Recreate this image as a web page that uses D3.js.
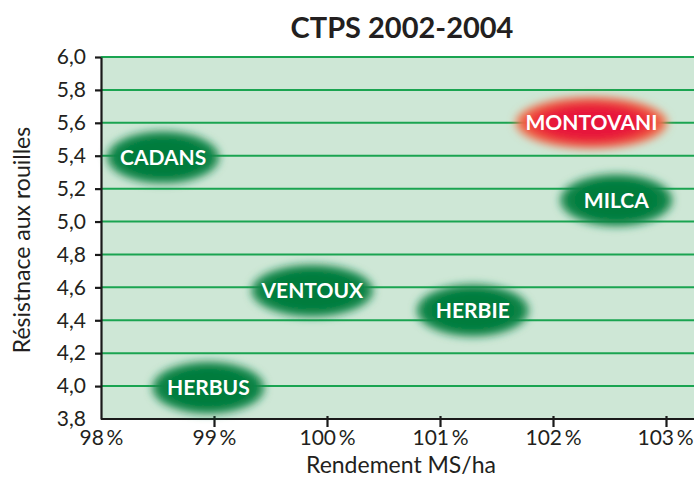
<!DOCTYPE html>
<html>
<head>
<meta charset="utf-8">
<script src="https://cdn.jsdelivr.net/npm/d3@7"></script>
<style>
  body { margin: 0; background: #fff; }
  svg { display: block; font-family: Lato, "Open Sans", sans-serif; }
</style>
</head>
<body>
<div id="chart"></div>
<script>
// CTPS 2002-2004 : rendement vs résistance aux rouilles

let varieties = ['CADANS', 'MONTOVANI', 'MILCA', 'VENTOUX', 'HERBIE', 'HERBUS'];
let rendement = [98.55, 102.34, 102.56, 99.87, 101.29, 98.95];
let resistance = [5.39, 5.6, 5.13, 4.58, 4.46, 3.99];
let highlight = ['MONTOVANI'];
let xTicks = [98, 99, 100, 101, 102, 103];
let yTicks = [3.8, 4.0, 4.2, 4.4, 4.6, 4.8, 5.0, 5.2, 5.4, 5.6, 5.8, 6.0];

let width = 694;
let height = 477;
let plotLeft = 101;
let plotTop = 57;
let plotBottom = 419;

let x = d3.scaleLinear().domain([98, 103]).range([plotLeft, 666]);
let y = d3.scaleLinear().domain([3.8, 6.0]).range([plotBottom, plotTop]);

let svg = d3.select('#chart').append('svg')
  .attr('width', width)
  .attr('height', height);

let defs = svg.append('defs');
defs.append('filter')
  .attr('id', 'soft')
  .attr('x', '-30%').attr('y', '-50%')
  .attr('width', '160%').attr('height', '200%')
  .append('feGaussianBlur')
  .attr('stdDeviation', 4);

let red = defs.append('radialGradient').attr('id', 'redGlow');
red.append('stop').attr('offset', '0%').attr('stop-color', '#e5103c');
red.append('stop').attr('offset', '62%').attr('stop-color', '#e81a3a');
red.append('stop').attr('offset', '85%').attr('stop-color', '#ee4a3c');
red.append('stop').attr('offset', '100%').attr('stop-color', '#f28a5a');

let green = defs.append('radialGradient').attr('id', 'greenGlow');
green.append('stop').attr('offset', '0%').attr('stop-color', '#007a3c');
green.append('stop').attr('offset', '70%').attr('stop-color', '#007d3e');
green.append('stop').attr('offset', '100%').attr('stop-color', '#1f8c52');

// plot background
svg.append('rect')
  .attr('x', plotLeft)
  .attr('y', plotTop)
  .attr('width', width - plotLeft)
  .attr('height', plotBottom - plotTop)
  .style('fill', '#cee7d6');

// grid lines
svg.append('g')
  .selectAll('line')
  .data(yTicks.filter(d => d > 3.8))
  .join('line')
  .attr('x1', plotLeft)
  .attr('x2', width)
  .attr('y1', d => y(d))
  .attr('y2', d => y(d))
  .style('stroke', '#1aa451')
  .style('stroke-width', 2);

// axes
let fmtY = d => d3.format('.1f')(d).replace('.', ',');

let yAxis = svg.append('g')
  .attr('transform', 'translate(' + plotLeft + ',0)')
  .call(d3.axisLeft(y).tickValues(yTicks).tickFormat(fmtY).tickSize(6).tickPadding(9).tickSizeOuter(0));

let xAxis = svg.append('g')
  .attr('transform', 'translate(0,' + plotBottom + ')')
  .call(d3.axisBottom(x).tickValues(xTicks).tickFormat(d => d + '\u2009%').tickSize(8).tickPadding(4).tickSizeOuter(0));

xAxis.select('.domain').attr('d', 'M' + plotLeft + ',0H' + width);

[xAxis, yAxis].forEach(a => {
  a.select('.domain').style('stroke', '#1a1a1a').style('stroke-width', 2.2);
  a.selectAll('.tick line').style('stroke', '#1a1a1a').style('stroke-width', 2.2);
  a.selectAll('.tick text')
    .style('font-size', '21px')
    .style('fill', '#231f20')
    .style('font-family', 'Lato, sans-serif');
});
xAxis.selectAll('.tick').filter(d => d === 98).select('line').remove();
xAxis.selectAll('.tick line').attr('y1', -3);
xAxis.selectAll('.tick text').attr('y', 11);
xAxis.selectAll('.tick').filter(d => d === 103).select('text').attr('text-anchor', 'end').attr('x', 27);
yAxis.selectAll('.tick').filter(d => d === 3.8).select('line').remove();

// varieties
let pts = svg.append('g')
  .selectAll('g')
  .data(varieties)
  .join('g')
  .attr('transform', (d, i) => 'translate(' + x(rendement[i]) + ',' + y(resistance[i]) + ')');

pts.append('text')
  .attr('class', 'lbl')
  .attr('text-anchor', 'middle')
  .attr('dy', '0.36em')
  .style('font-size', '21px')
  .style('font-weight', 'bold')
  .style('fill', '#fff')
  .text(d => d);

pts.each(function (d) {
  let g = d3.select(this);
  let tw = g.select('text').node().getComputedTextLength();
  let rx = Math.max(56, tw / 2 + 10);
  g.insert('ellipse', 'text')
    .attr('rx', rx)
    .attr('ry', 26)
    .attr('filter', 'url(#soft)')
    .style('fill', highlight.includes(d) ? 'url(#redGlow)' : 'url(#greenGlow)');
});

// titles
svg.append('text')
  .attr('x', 402)
  .attr('y', 38)
  .attr('text-anchor', 'middle')
  .style('font-size', '29px')
  .style('font-weight', 'bold')
  .style('fill', '#231f20')
  .text('CTPS 2002-2004');

svg.append('text')
  .attr('x', 401)
  .attr('y', 473)
  .attr('text-anchor', 'middle')
  .style('font-size', '23px')
  .style('fill', '#231f20')
  .text('Rendement MS/ha');

svg.append('text')
  .attr('transform', 'translate(30,240) rotate(-90)')
  .attr('text-anchor', 'middle')
  .style('font-size', '23px')
  .style('fill', '#231f20')
  .text('Résistnace aux rouilles');
</script>
</body>
</html>
